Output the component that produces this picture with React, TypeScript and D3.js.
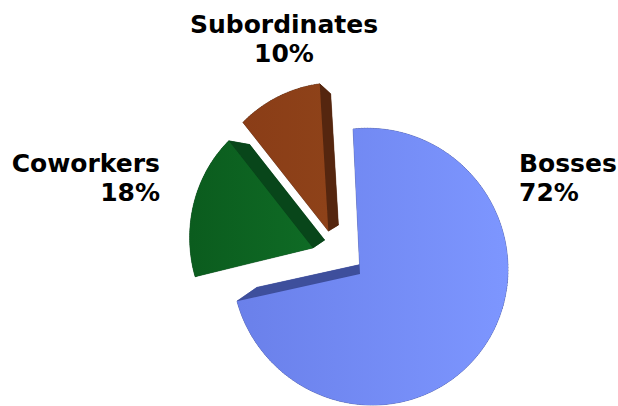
import React from "react";
import * as d3 from "d3";

const categories = ["Bosses", "Coworkers", "Subordinates"];
const values = [72, 18, 10];
const percentLabels = ["72%", "18%", "10%"];

const W = 618;
const H = 406;
const EXPLODE = 0.2;
// perspective projection of the pie plane (unit radius) onto the screen
const VX = 360, VY = 274;
const A = 136.9, B = 6.6, D = -3.7, E = 137.6, P = -0.0748, Q = 0.0507;
// extrusion toward vanishing point
const VPX = 420, VPY = 175, K = 0.11;

const fronts = ["url(#gBlue)", "url(#gGreen)", "url(#gBrown)"];
const darks = ["#3e4f9c", "#08461a", "#55260f"];

const labelPos = [
  { x: 519, y: 172, anchor: "start" },
  { x: 160, y: 172, anchor: "end" },
  { x: 284, y: 33, anchor: "middle" },
];

export default function App() {
  const pie = d3.pie<number>().sort(null).startAngle(0).endAngle(2 * Math.PI);
  const arcs = pie(values);
  const mid0 = (arcs[0].startAngle + arcs[0].endAngle) / 2;
  const u0 = EXPLODE * Math.sin(mid0);
  const v0 = -EXPLODE * Math.cos(mid0);

  const project = (u: number, v: number): [number, number] => {
    const du = u - u0, dv = v - v0;
    const den = 1 + P * du + Q * dv;
    return [VX + (A * du + B * dv) / den, VY + (D * du + E * dv) / den];
  };
  const back = (p: [number, number]): [number, number] => [
    p[0] + K * (VPX - p[0]),
    p[1] + K * (VPY - p[1]),
  ];
  const line = d3.line();

  const slices = arcs.map((a, i) => {
    const mid = (a.startAngle + a.endAngle) / 2;
    const cu = EXPLODE * Math.sin(mid);
    const cv = -EXPLODE * Math.cos(mid);
    const n = Math.max(8, Math.ceil((a.endAngle - a.startAngle) / 0.02));
    const pts: [number, number][] = [project(cu, cv)];
    for (let j = 0; j <= n; j++) {
      const t = a.startAngle + ((a.endAngle - a.startAngle) * j) / n;
      pts.push(project(cu + Math.sin(t), cv - Math.cos(t)));
    }
    const bpts = pts.map(back);
    const walls: string[] = [];
    for (let j = 0; j < pts.length; j++) {
      const j2 = (j + 1) % pts.length;
      walls.push(line([pts[j], pts[j2], bpts[j2], bpts[j]]) + "Z");
    }
    return { i, front: line(pts) + "Z", back: line(bpts) + "Z", walls };
  });

  return (
    <svg width={W} height={H} style={{ position: "absolute", left: 0, top: 0, background: "#fff" }}>
      <defs>
        <linearGradient id="gBlue" x1="0" y1="0" x2="1" y2="0">
          <stop offset="0" stopColor="#6a80ea" />
          <stop offset="1" stopColor="#7d96ff" />
        </linearGradient>
        <linearGradient id="gGreen" x1="0" y1="0" x2="1" y2="0">
          <stop offset="0" stopColor="#0b5c1e" />
          <stop offset="1" stopColor="#0f6b25" />
        </linearGradient>
        <linearGradient id="gBrown" x1="0" y1="0" x2="1" y2="0">
          <stop offset="0" stopColor="#8a3d17" />
          <stop offset="1" stopColor="#8e4219" />
        </linearGradient>
      </defs>
      {slices.map((s) => (
        <g key={categories[s.i]}>
          <path d={s.back} fill={darks[s.i]} />
          {s.walls.map((w, j) => (
            <path key={j} d={w} fill={darks[s.i]} stroke={darks[s.i]} strokeWidth={0.5} />
          ))}
          <path d={s.front} fill={fronts[s.i]} />
        </g>
      ))}
      {categories.map((c, i) => (
        <text
          key={c}
          x={labelPos[i].x}
          y={labelPos[i].y}
          textAnchor={labelPos[i].anchor as any}
          fontFamily="DejaVu Sans, Verdana, sans-serif"
          fontWeight="bold"
          fontSize={25}
          fill="#000"
        >
          <tspan x={labelPos[i].x}>{c}</tspan>
          <tspan x={labelPos[i].x} dy={29}>{percentLabels[i]}</tspan>
        </text>
      ))}
    </svg>
  );
}
